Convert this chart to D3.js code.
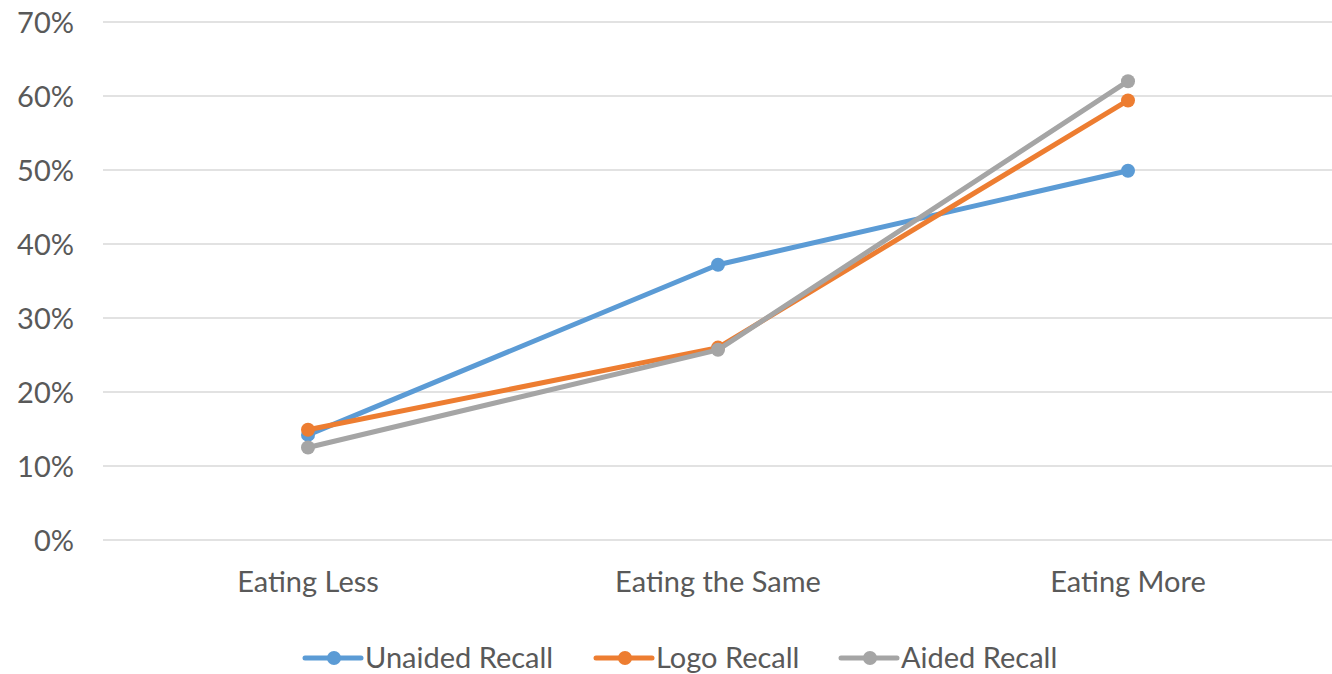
<!DOCTYPE html>
<html>
<head>
<meta charset="utf-8">
<script src="https://cdn.jsdelivr.net/npm/d3@7"></script>
<style>
  html, body { margin: 0; padding: 0; background: #fff; }
  svg { display: block; }
  text { font-family: Lato, "Liberation Sans", sans-serif; fill: #595959; }
</style>
</head>
<body>
<svg id="chart" width="1332" height="674"></svg>
<script>
// Share of respondents by eating behaviour, per recall type
const categories = ["Eating Less", "Eating the Same", "Eating More"];
const seriesNames = ["Unaided Recall", "Logo Recall", "Aided Recall"];
const unaidedRecall = [0.142, 0.372, 0.499];
const logoRecall = [0.149, 0.260, 0.594];
const aidedRecall = [0.125, 0.257, 0.620];
const yTicks = [0, 0.1, 0.2, 0.3, 0.4, 0.5, 0.6, 0.7];
const colors = ["#5B9BD5", "#ED7D31", "#A5A5A5"];

const series = [unaidedRecall, logoRecall, aidedRecall].map((values, i) => ({
  name: seriesNames[i],
  color: colors[i],
  points: values.map((v, j) => ({ cat: categories[j], v }))
}));

const svg = d3.select("#chart");
const margin = { left: 103, right: -1, top: 22, bottom: 134 };
const W = 1332, H = 674;
const fontSize = 29;

const x = d3.scaleBand()
  .domain(categories)
  .range([margin.left, W - margin.right])
  .paddingInner(0).paddingOuter(0);

const y = d3.scaleLinear()
  .domain([0, 0.7])
  .range([H - margin.bottom, margin.top]);

// Horizontal gridlines
svg.append("g")
  .selectAll("line")
  .data(yTicks)
  .join("line")
  .attr("x1", margin.left)
  .attr("x2", W)
  .attr("y1", d => y(d))
  .attr("y2", d => y(d))
  .attr("stroke", "#d9d9d9")
  .attr("stroke-width", 1.5);

// Y axis labels
const yAxis = d3.axisLeft(y).tickValues(yTicks).tickFormat(d3.format(".0%")).tickSize(0).tickPadding(0);
const gy = svg.append("g").attr("transform", "translate(74,0)").call(yAxis);
gy.select(".domain").remove();
gy.selectAll("text")
  .attr("font-size", fontSize)
  .attr("font-family", "Lato, 'Liberation Sans', sans-serif")
  .attr("fill", "#595959")
  .attr("dy", "0.35em");

// X axis labels
const xAxis = d3.axisBottom(x).tickSize(0).tickPadding(0);
const gx = svg.append("g").attr("transform", `translate(0,${y(0) + 31})`).call(xAxis);
gx.select(".domain").remove();
gx.selectAll("text")
  .attr("font-size", fontSize)
  .attr("font-family", "Lato, 'Liberation Sans', sans-serif")
  .attr("fill", "#595959")
  .attr("dy", "0.71em");

const cx = d => x(d.cat) + x.bandwidth() / 2;
const line = d3.line().x(cx).y(d => y(d.v));

const gs = svg.append("g")
  .selectAll("g")
  .data(series)
  .join("g");

gs.append("path")
  .attr("d", d => line(d.points))
  .attr("fill", "none")
  .attr("stroke", d => d.color)
  .attr("stroke-width", 5)
  .attr("stroke-linejoin", "round")
  .attr("stroke-linecap", "round");

gs.selectAll("circle")
  .data(d => d.points.map(p => ({ ...p, color: d.color })))
  .join("circle")
  .attr("cx", cx)
  .attr("cy", d => y(d.v))
  .attr("r", 7)
  .attr("fill", d => d.color);

// Legend
const legendX = [305, 596, 841];
const legendY = 658;
const lg = svg.append("g")
  .selectAll("g")
  .data(series)
  .join("g")
  .attr("transform", (d, i) => `translate(${legendX[i]},${legendY})`);

lg.append("line")
  .attr("x1", 0).attr("x2", 56)
  .attr("y1", 0).attr("y2", 0)
  .attr("stroke", d => d.color)
  .attr("stroke-width", 5)
  .attr("stroke-linecap", "round");
lg.append("circle")
  .attr("cx", 29).attr("cy", 0).attr("r", 7)
  .attr("fill", d => d.color);
lg.append("text")
  .attr("x", 60)
  .attr("y", 0)
  .attr("dy", "0.36em")
  .attr("font-size", fontSize)
  .text(d => d.name);
</script>
</body>
</html>
